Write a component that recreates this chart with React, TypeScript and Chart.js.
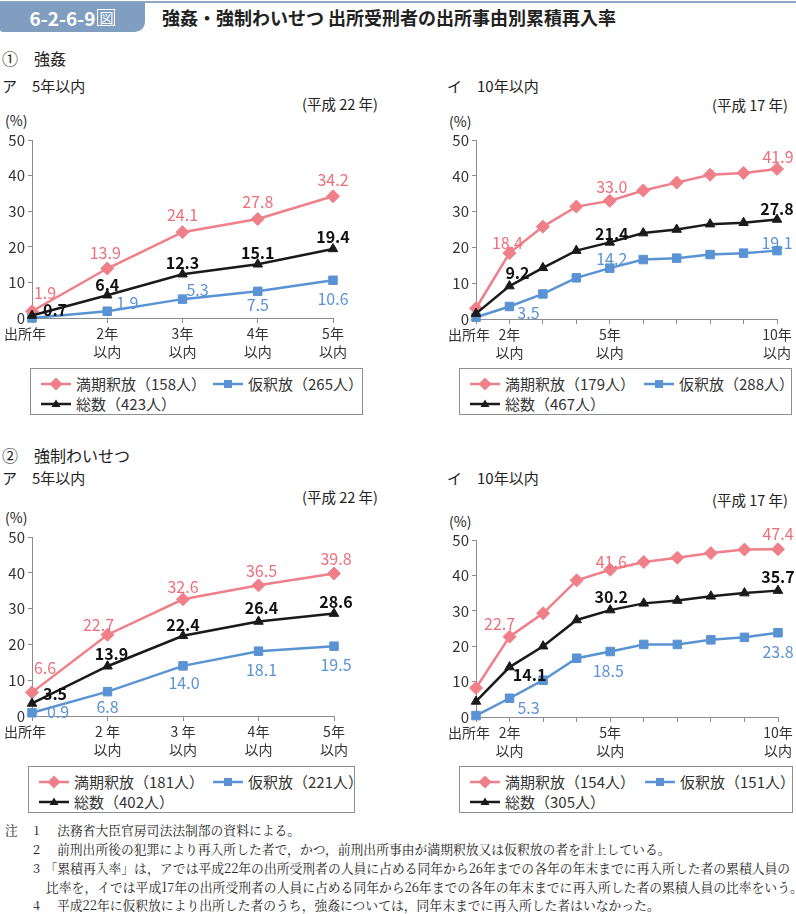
import React, { useEffect, useRef } from "react";
import { Chart, registerables } from "chart.js";
Chart.register(...registerables);

const FONT = '"Noto Sans CJK JP", "Noto Sans", sans-serif';
const SERIF = '"Noto Serif CJK JP", "Noto Sans CJK JP", serif';

// ---------- data ----------
const seriesNames = ["満期釈放", "仮釈放", "総数"];

const catsFiveA = ["出所年\u3000", ["2年", "以内"], ["3年", "以内"], ["4年", "以内"], ["5年", "以内"]];
const catsFiveB = ["出所年\u3000", ["2 年", "以内"], ["3 年", "以内"], ["4年", "以内"], ["5年", "以内"]];
const catsTen = ["出所年\u3000", ["2年", "以内"], "", "", ["5年", "以内"], "", "", "", "", ["10年", "以内"]];
const yTicks = [0, 10, 20, 30, 40, 50];

// ① 強姦 ア 5年以内 (平成22年)
const rapeFiveManki = [1.9, 13.9, 24.1, 27.8, 34.2];
const rapeFiveKari = [0, 1.9, 5.3, 7.5, 10.6];
const rapeFiveTotal = [0.7, 6.4, 12.3, 15.1, 19.4];
const rapeFiveCounts = [158, 265, 423];

// ① 強姦 イ 10年以内 (平成17年)
const rapeTenManki = [3.0, 18.4, 25.8, 31.4, 33.0, 35.9, 38.1, 40.3, 40.8, 41.9];
const rapeTenKari = [0.5, 3.5, 7.0, 11.5, 14.2, 16.6, 17.0, 18.0, 18.4, 19.1];
const rapeTenTotal = [1.5, 9.2, 14.3, 19.1, 21.4, 24.0, 25.0, 26.5, 26.9, 27.8];
const rapeTenCounts = [179, 288, 467];

// ② 強制わいせつ ア 5年以内 (平成22年)
const indFiveManki = [6.6, 22.7, 32.6, 36.5, 39.8];
const indFiveKari = [0.9, 6.8, 14.0, 18.1, 19.5];
const indFiveTotal = [3.5, 13.9, 22.4, 26.4, 28.6];
const indFiveCounts = [181, 221, 402];

// ② 強制わいせつ イ 10年以内 (平成17年)
const indTenManki = [8.2, 22.7, 29.3, 38.6, 41.6, 43.8, 45.0, 46.3, 47.3, 47.4];
const indTenKari = [0.4, 5.3, 10.4, 16.6, 18.5, 20.5, 20.5, 21.8, 22.5, 23.8];
const indTenTotal = [4.4, 14.1, 20.0, 27.4, 30.2, 32.1, 32.9, 34.1, 35.0, 35.7];
const indTenCounts = [154, 151, 305];

// ---------- styles ----------
const seriesStyles = [
  { color: "#ef7f88", labelColor: "#ee6f7b", marker: "rectRot", radius: 6.5, weight: "normal" },
  { color: "#5a93d4", labelColor: "#5b93d4", marker: "rect", radius: 6, weight: "normal" },
  { color: "#1a1a1a", labelColor: "#111111", marker: "triangle", radius: 5.5, weight: "bold" },
];

type Off = [number, number] | null;
const N: Off = null;

const placeTL: Off[][] = [
  [[13, -18.5], [-2, -15.7], [0, -17.4], [0, -17], [0, -16]],
  [N, [20, -8.5], [15, -9.4], [0, 13.4], [0, 18.5]],
  [[23, -6], [0, -10.5], [0, -11.4], [0, -11.5], [0, -12]],
];
const placeTR: Off[][] = [
  [N, [-2, -10], N, N, [2, -14], N, N, N, N, [1, -12]],
  [N, [19, 6.5], N, N, [2, -9], N, N, N, N, [0, -7.6]],
  [N, [8, -13], N, N, [2, -8], N, N, N, N, [0, -10.5]],
];
const placeBL: Off[][] = [
  [[13, -24], [-9, -10], [0, -12], [3, -14], [2, -15]],
  [[26, -1], [0, 15], [1, 17], [3, 19], [2, 19]],
  [[23, -9.5], [4, -12], [0, -10.7], [3, -14], [2, -11.5]],
];
const placeBR: Off[][] = [
  [N, [-10, -12.5], N, N, [1, -8], N, N, N, N, [0, -15]],
  [N, [19, 10], N, N, [-2, 19], N, N, N, N, [0, 19]],
  [N, [20, 8], N, N, [1, -13], N, N, N, N, [0, -13.5]],
];

type ChartProps = {
  left: number; top: number; width: number; height: number;
  yWidth: number; xHeight: number; padTop: number; padRight: number;
  labels: any[]; values: number[][]; placements: Off[][];
};

function LineChart(p: ChartProps) {
  const ref = useRef<HTMLCanvasElement>(null);
  useEffect(() => {
    if (!ref.current) return;
    const labelPlugin = {
      id: "valueLabels",
      afterDatasetsDraw(chart: any) {
        const ctx = chart.ctx;
        chart.data.datasets.forEach((ds: any, di: number) => {
          const meta = chart.getDatasetMeta(di);
          const st = seriesStyles[di];
          meta.data.forEach((pt: any, i: number) => {
            const off = p.placements[di][i];
            if (!off) return;
            ctx.save();
            ctx.font = `${st.weight} 16px ${FONT}`;
            ctx.fillStyle = st.labelColor;
            ctx.textAlign = "center";
            ctx.textBaseline = "middle";
            ctx.fillText((ds.data[i] as number).toFixed(1), pt.x + off[0], pt.y + off[1]);
            ctx.restore();
          });
        });
      },
    };
    const axisColor = "#8c8c8c";
    const chart = new Chart(ref.current, {
      type: "line",
      data: {
        labels: p.labels,
        datasets: p.values.map((vals, i) => ({
          label: seriesNames[i],
          data: vals,
          borderColor: seriesStyles[i].color,
          backgroundColor: seriesStyles[i].color,
          pointBackgroundColor: seriesStyles[i].color,
          pointBorderColor: seriesStyles[i].color,
          pointBorderWidth: 1,
          pointStyle: seriesStyles[i].marker as any,
          pointRadius: seriesStyles[i].radius,
          borderWidth: 2.5,
          tension: 0,
          clip: false as any,
          order: i === 2 ? 0 : i === 0 ? 1 : 2,
        })),
      },
      options: {
        responsive: false,
        animation: false,
        devicePixelRatio: 1,
        layout: { padding: { top: p.padTop, right: p.padRight, left: 0, bottom: 0 } },
        plugins: { legend: { display: false }, tooltip: { enabled: false } },
        scales: {
          x: {
            type: "category",
            offset: false,
            grid: { drawOnChartArea: false, drawTicks: true, tickLength: 5, color: axisColor },
            border: { display: true, color: axisColor, width: 1 },
            ticks: {
              autoSkip: false, maxRotation: 0, minRotation: 0, padding: 2, color: "#333",
              font: { family: FONT, size: 14, lineHeight: 1.29 },
            },
            afterFit: (s: any) => { s.height = p.xHeight; },
          },
          y: {
            min: yTicks[0],
            max: yTicks[yTicks.length - 1],
            afterBuildTicks: (s: any) => { s.ticks = yTicks.map((v) => ({ value: v })); },
            grid: { drawOnChartArea: false, drawTicks: true, tickLength: 4, color: axisColor },
            border: { display: true, color: axisColor, width: 1 },
            ticks: { padding: 3, color: "#333", font: { family: FONT, size: 15 } },
            afterFit: (s: any) => { s.width = p.yWidth; },
          },
        },
      },
      plugins: [labelPlugin],
    });
    return () => chart.destroy();
  }, []);
  return (
    <canvas
      ref={ref}
      width={p.width}
      height={p.height}
      style={{ position: "absolute", left: p.left, top: p.top, width: p.width, height: p.height }}
    />
  );
}

function Marker({ kind, color }: { kind: string; color: string }) {
  let shape: any = null;
  if (kind === "rectRot") shape = <polygon points="15,0.5 21.5,7 15,13.5 8.5,7" fill={color} />;
  else if (kind === "rect") shape = <rect x={11} y={3} width={8} height={8} fill={color} />;
  else shape = <polygon points="15,2.5 19.5,10 10.5,10" fill={color} />;
  return (
    <svg width={30} height={14} style={{ display: "block" }}>
      <line x1={0} y1={7} x2={30} y2={7} stroke={color} strokeWidth={2.5} />
      {shape}
    </svg>
  );
}

function Legend({ left, top, width, counts, col2 }: { left: number; top: number; width: number; counts: number[]; col2: number }) {
  const pos = [
    { x: 10, y: 15 },
    { x: col2, y: 15 },
    { x: 10, y: 35 },
  ];
  return (
    <div style={{ position: "absolute", left, top, width, height: 47, border: "1px solid #8f8f8f", boxSizing: "border-box" }}>
      {seriesNames.map((n, i) => (
        <div key={i} style={{ position: "absolute", left: pos[i].x, top: pos[i].y - 10, height: 20, display: "flex", alignItems: "center", whiteSpace: "nowrap" }}>
          <Marker kind={seriesStyles[i].marker} color={seriesStyles[i].color} />
          <span style={{ marginLeft: 5, font: `15px ${FONT}`, color: "#333", lineHeight: "20px" }}>{`${n}（${counts[i]}人）`}</span>
        </div>
      ))}
    </div>
  );
}

function Txt({ x, y, size, children, weight, family }: any) {
  return (
    <div style={{ position: "absolute", left: x, top: y - 11, height: 22, lineHeight: "22px", fontSize: size, fontFamily: family || FONT, fontWeight: weight || "normal", color: "#222", whiteSpace: "nowrap" }}>
      {children}
    </div>
  );
}

const notes = [
  { num: "1", text: "法務省大臣官房司法法制部の資料による。", x: 57 },
  { num: "2", text: "前刑出所後の犯罪により再入所した者で，かつ，前刑出所事由が満期釈放又は仮釈放の者を計上している。", x: 57 },
  { num: "3", text: "「累積再入率」は，アでは平成22年の出所受刑者の人員に占める同年から26年までの各年の年末までに再入所した者の累積人員の", x: 44.5 },
  { num: "", text: "比率を，イでは平成17年の出所受刑者の人員に占める同年から26年までの各年の年末までに再入所した者の累積人員の比率をいう。", x: 46 },
  { num: "4", text: "平成22年に仮釈放により出所した者のうち，強姦については，同年末までに再入所した者はいなかった。", x: 57 },
];
const noteY = [830, 849, 868, 887, 905];

export default function App() {
  return (
    <div style={{ position: "absolute", left: 0, top: 0, width: 796, height: 914, overflow: "hidden", background: "#fff" }}>
      {/* header */}
      <div style={{ position: "absolute", left: 0, top: 1, width: 796, height: 2, background: "#8ea8c6" }} />
      <div style={{ position: "absolute", left: 0, top: 2, width: 145, height: 30, background: "#7f9ec0", borderBottomRightRadius: 10, borderBottomLeftRadius: 3, display: "flex", alignItems: "center", justifyContent: "center", color: "#fff", fontFamily: FONT, fontWeight: "bold", fontSize: 19 }}>
        <span>6-2-6-9</span>
        <span style={{ display: "inline-block", border: "1.5px solid #fff", fontSize: 14, lineHeight: "15px", padding: "0 1px", marginLeft: 2, fontWeight: "normal" }}>図</span>
      </div>
      <Txt x={162} y={17} size={18} weight="bold">強姦・強制わいせつ 出所受刑者の出所事由別累積再入率</Txt>

      {/* section 1 */}
      <Txt x={2} y={58} size={16}>①　強姦</Txt>
      <Txt x={2} y={86} size={15}>ア　5年以内</Txt>
      <Txt x={447} y={86} size={15}>イ　10年以内</Txt>
      <Txt x={302} y={104} size={14.5}>(平成 22 年)</Txt>
      <Txt x={712} y={105} size={14.5}>(平成 17 年)</Txt>
      <Txt x={5} y={120} size={14}>(%)</Txt>
      <Txt x={449} y={121} size={14}>(%)</Txt>

      <LineChart left={0} top={128} width={372} height={232} yWidth={32} xHeight={42} padTop={12} padRight={39}
        labels={catsFiveA} values={[rapeFiveManki, rapeFiveKari, rapeFiveTotal]} placements={placeTL} />
      <LineChart left={436} top={128} width={360} height={232} yWidth={40} xHeight={41} padTop={12} padRight={19}
        labels={catsTen} values={[rapeTenManki, rapeTenKari, rapeTenTotal]} placements={placeTR} />

      <Legend left={30} top={368} width={333} counts={rapeFiveCounts} col2={182} />
      <Legend left={459} top={368} width={333} counts={rapeTenCounts} col2={184} />

      {/* section 2 */}
      <Txt x={2} y={455} size={16}>②　強制わいせつ</Txt>
      <Txt x={2} y={478} size={15}>ア　5年以内</Txt>
      <Txt x={447} y={478} size={15}>イ　10年以内</Txt>
      <Txt x={302} y={497} size={14.5}>(平成 22 年)</Txt>
      <Txt x={712} y={500} size={14.5}>(平成 17 年)</Txt>
      <Txt x={5} y={517} size={14}>(%)</Txt>
      <Txt x={449} y={521} size={14}>(%)</Txt>

      <LineChart left={0} top={525} width={372} height={232} yWidth={32} xHeight={41} padTop={12} padRight={38}
        labels={catsFiveB} values={[indFiveManki, indFiveKari, indFiveTotal]} placements={placeBL} />
      <LineChart left={436} top={528} width={360} height={232} yWidth={40} xHeight={43} padTop={12} padRight={18}
        labels={catsTen} values={[indTenManki, indTenKari, indTenTotal]} placements={placeBR} />

      <Legend left={28} top={766} width={327} counts={indFiveCounts} col2={184} />
      <Legend left={459} top={766} width={334} counts={indTenCounts} col2={185} />

      {/* notes */}
      <Txt x={5} y={noteY[0]} size={12.8} family={SERIF}>注</Txt>
      {notes.map((n, i) => (
        <React.Fragment key={i}>
          {n.num ? <Txt x={33} y={noteY[i]} size={12.8} family={SERIF}>{n.num}</Txt> : null}
          <Txt x={n.x} y={noteY[i]} size={12.8} family={SERIF}>{n.text}</Txt>
        </React.Fragment>
      ))}
    </div>
  );
}
